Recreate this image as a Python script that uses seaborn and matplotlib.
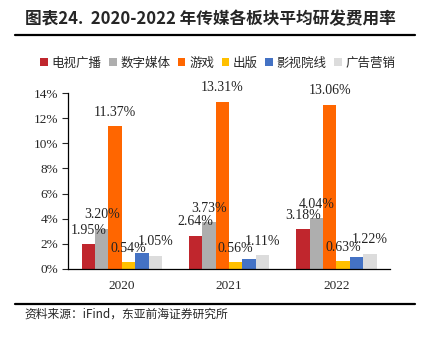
import matplotlib
matplotlib.use("Agg")
import matplotlib.pyplot as plt
import seaborn as sns
import pandas as pd
from matplotlib.patches import Patch
from matplotlib.lines import Line2D

years = ["2020", "2021", "2022"]
segments = ["电视广播", "数字媒体", "游戏", "出版", "影视院线", "广告营销"]
tv = [1.95, 2.64, 3.18]
digital = [3.20, 3.73, 4.04]
games = [11.37, 13.31, 13.06]
publishing = [0.54, 0.56, 0.63]
cinema = [1.30, 0.80, 0.95]
advertising = [1.05, 1.11, 1.22]
labelled = [True, True, True, True, False, True]
colors = ["#C0262D", "#AEAEAE", "#FF6600", "#FFC000", "#4472C4", "#DCDCDC"]
yticks = [0, 2, 4, 6, 8, 10, 12, 14]

series = [tv, digital, games, publishing, cinema, advertising]
rows = []
for seg, vals in zip(segments, series):
    for y, v in zip(years, vals):
        rows.append({"year": y, "segment": seg, "value": v})
df = pd.DataFrame(rows)

sns.set_style("ticks")
plt.rcParams['font.family'] = ['Liberation Serif', 'Noto Sans CJK SC']

fig = plt.figure(figsize=(4.23, 3.42), dpi=100)
ax = fig.add_axes([0.161, 0.2135, 0.761, 0.5145])

sns.barplot(data=df, x="year", y="value", hue="segment", palette=colors,
            hue_order=segments, order=years, width=0.75, saturation=1,
            ax=ax, legend=False, linewidth=0)

ax.set_ylim(0, 14)
ax.set_xlim(-0.5, 2.5)
ax.set_yticks(yticks)
ax.set_yticklabels([f"{t}%" for t in yticks], fontsize=9.5)
ax.tick_params(axis='x', length=0, labelsize=9.5, pad=8)
ax.tick_params(axis='y', length=4, width=0.8, direction='out', pad=3)
ax.set_xlabel("")
ax.set_ylabel("")
for s in ["top", "right"]:
    ax.spines[s].set_visible(False)
for s in ["left", "bottom"]:
    ax.spines[s].set_color("black")
    ax.spines[s].set_linewidth(0.9)

# data labels
for cont, vals, lab in zip(ax.containers, series, labelled):
    if not lab:
        continue
    for bar, v in zip(cont, vals):
        ax.annotate(f"{v:.2f}%", (bar.get_x() + bar.get_width() / 2, bar.get_height()),
                    xytext=(0, 10), textcoords="offset points",
                    ha="center", va="center", fontsize=10, color="#222222")

# legend
handles = [Patch(facecolor=c, edgecolor='none') for c in colors]
fig.legend(handles, segments, loc="center", bbox_to_anchor=(0.515, 0.815), ncol=6,
           frameon=False, handlelength=0.6, handleheight=0.6, handletextpad=0.3,
           columnspacing=0.6, prop={'family': 'Noto Sans CJK SC', 'size': 9})

# title
fig.text(0.058, 0.945, "图表24.  2020-2022 年传媒各板块平均研发费用率",
         fontsize=12, fontweight='bold', family=['Noto Sans CJK SC'],
         ha="left", va="center")

# rules
fig.add_artist(Line2D([0.035, 0.982], [0.897, 0.897], color="black", lw=1.6))
fig.add_artist(Line2D([0.035, 0.982], [0.111, 0.111], color="black", lw=1.6))

fig.text(0.058, 0.08, "资料来源：iFind，东亚前海证券研究所", fontsize=8.5,
         family=['Noto Sans CJK SC'], ha="left", va="center")

fig.savefig("out.png", dpi=100)
